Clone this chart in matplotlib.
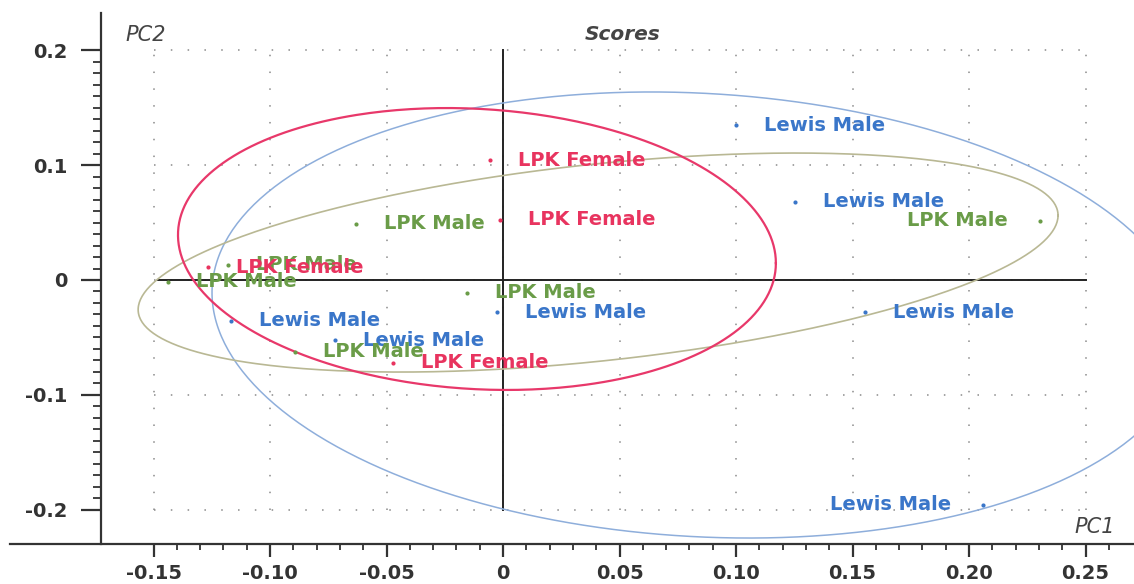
import numpy as np
import matplotlib
matplotlib.use("Agg")
import matplotlib.pyplot as plt
from matplotlib.ticker import FixedLocator

plt.rcParams['axes.unicode_minus'] = False
plt.rcParams['font.family'] = ['DejaVu Sans']

# ---- data ----
lewis_x = [0.100, 0.1253, 0.1554, 0.206, -0.0026, -0.1167, -0.0721]
lewis_y = [0.135, 0.068, -0.0279, -0.196, -0.0279, -0.0357, -0.0523]

lpkf_x = [-0.0056, -0.0013, -0.0472, -0.1266]
lpkf_y = [0.1045, 0.0523, -0.0723, 0.0113]

lpkm_x = [-0.0631, 0.2305, -0.0155, -0.1438, -0.118, -0.0893]
lpkm_y = [0.0488, 0.0514, -0.0113, -0.0017, 0.0131, -0.0627]

# confidence ellipses: centre, x half-extent, y half-extent, correlation
ell_lewis = dict(cx=0.0845, cy=-0.0305, rx=0.2094, ry=0.1943, rho=-0.10)
ell_lpkf = dict(cx=-0.0112, cy=0.027, rx=0.1283, ry=0.1228, rho=-0.10)
ell_lpkm = dict(cx=0.0408, cy=0.0152, rx=0.1974, ry=0.0954, rho=0.43)

x_ticks = [-0.15, -0.10, -0.05, 0.0, 0.05, 0.10, 0.15, 0.20, 0.25]
x_ticklabels = ['-0.15', '-0.10', '-0.05', '0', '0.05', '0.10', '0.15', '0.20', '0.25']
y_ticks = [-0.2, -0.1, 0.0, 0.1, 0.2]
y_ticklabels = ['-0.2', '-0.1', '0', '0.1', '0.2']

# ---- styles ----
c_lewis, c_lewis_ell = '#3a76c9', '#8eaedb'
c_lpkf, c_lpkf_ell = '#e8345f', '#e8386a'
c_lpkm, c_lpkm_ell = '#6a9c48', '#b9b894'
axis_col = '#333333'

W, H = 1134, 584
fig = plt.figure(figsize=(W / 100, H / 100), dpi=100)
ax = fig.add_axes([10 / W, 40 / H, 1124 / W, 531 / H])
ax.set_xlim(-0.2116, 0.2708)
ax.set_ylim(-0.23, 0.2326)

# dotted grid limited to the tick box
gx0, gx1 = x_ticks[0], x_ticks[-1]
gy0, gy1 = y_ticks[0], y_ticks[-1]
grid_kw = dict(color='#8a8a8a', lw=1.1, linestyle=(0, (1, 10)), zorder=1)
for xv in x_ticks:
    ax.plot([xv, xv], [gy0, gy1], **grid_kw)
for yv in y_ticks:
    ax.plot([gx0, gx1], [yv, yv], **grid_kw)

# zero lines
ax.plot([0, 0], [gy0, gy1], color='#222222', lw=1.4, zorder=2)
ax.plot([-0.148, gx1], [0, 0], color='#222222', lw=1.4, zorder=2)


def draw_ellipse(e, color, lw):
    t = np.linspace(0, 2 * np.pi, 400)
    x = e['cx'] + e['rx'] * np.cos(t)
    y = e['cy'] + e['ry'] * (e['rho'] * np.cos(t) + np.sqrt(1 - e['rho'] ** 2) * np.sin(t))
    ax.plot(x, y, color=color, lw=lw, zorder=3)


draw_ellipse(ell_lewis, c_lewis_ell, 1.1)
draw_ellipse(ell_lpkm, c_lpkm_ell, 1.2)
draw_ellipse(ell_lpkf, c_lpkf_ell, 1.6)


def draw_group(xs, ys, color, name):
    ax.scatter(xs, ys, s=9, color=color, zorder=4, linewidths=0)
    for x, y in zip(xs, ys):
        if x > 0.2:
            ax.annotate(name, (x, y), xytext=(-32, 0), textcoords='offset pixels',
                        ha='right', va='center', color=color, fontsize=14,
                        fontweight='bold', zorder=5)
        else:
            ax.annotate(name, (x, y), xytext=(28, 0), textcoords='offset pixels',
                        ha='left', va='center', color=color, fontsize=14,
                        fontweight='bold', zorder=5)


draw_group(lewis_x, lewis_y, c_lewis, 'Lewis Male')
draw_group(lpkm_x, lpkm_y, c_lpkm, 'LPK Male')
draw_group(lpkf_x, lpkf_y, c_lpkf, 'LPK Female')

# spines
for s in ['top', 'right']:
    ax.spines[s].set_visible(False)
ax.spines['left'].set_position(('data', -0.1725))
for s in ['left', 'bottom']:
    ax.spines[s].set_color(axis_col)
    ax.spines[s].set_linewidth(1.6)

ax.set_xticks(x_ticks)
ax.set_xticklabels(x_ticklabels)
ax.set_yticks(y_ticks)
ax.set_yticklabels(y_ticklabels)
ax.xaxis.set_minor_locator(FixedLocator(np.round(np.arange(-0.15, 0.2601, 0.01), 3)))
ax.yaxis.set_minor_locator(FixedLocator(np.round(np.arange(-0.2, 0.2001, 0.01), 3)))
ax.tick_params(axis='x', which='major', length=9.5, width=1.6, color=axis_col,
               pad=5, labelsize=14, labelcolor=axis_col)
ax.tick_params(axis='x', which='minor', length=4.5, width=1.3, color=axis_col)
ax.tick_params(axis='y', which='major', length=14.5, width=1.6, color=axis_col,
               pad=10, labelsize=14, labelcolor=axis_col)
ax.tick_params(axis='y', which='minor', length=5.5, width=1.3, color=axis_col)
for lab in ax.get_xticklabels() + ax.get_yticklabels():
    lab.set_fontweight('bold')

# titles
fig.text(125 / W, 1 - 35 / H, 'PC2', ha='left', va='center', fontsize=15,
         style='italic', color='#444444')
fig.text(623 / W, 1 - 35 / H, 'Scores', ha='center', va='center', fontsize=14.5,
         style='italic', fontweight='bold', color='#444444')
fig.text(1115 / W, 1 - 527 / H, 'PC1', ha='right', va='center', fontsize=15,
         style='italic', color='#444444')

fig.savefig('out.png', dpi=100)
